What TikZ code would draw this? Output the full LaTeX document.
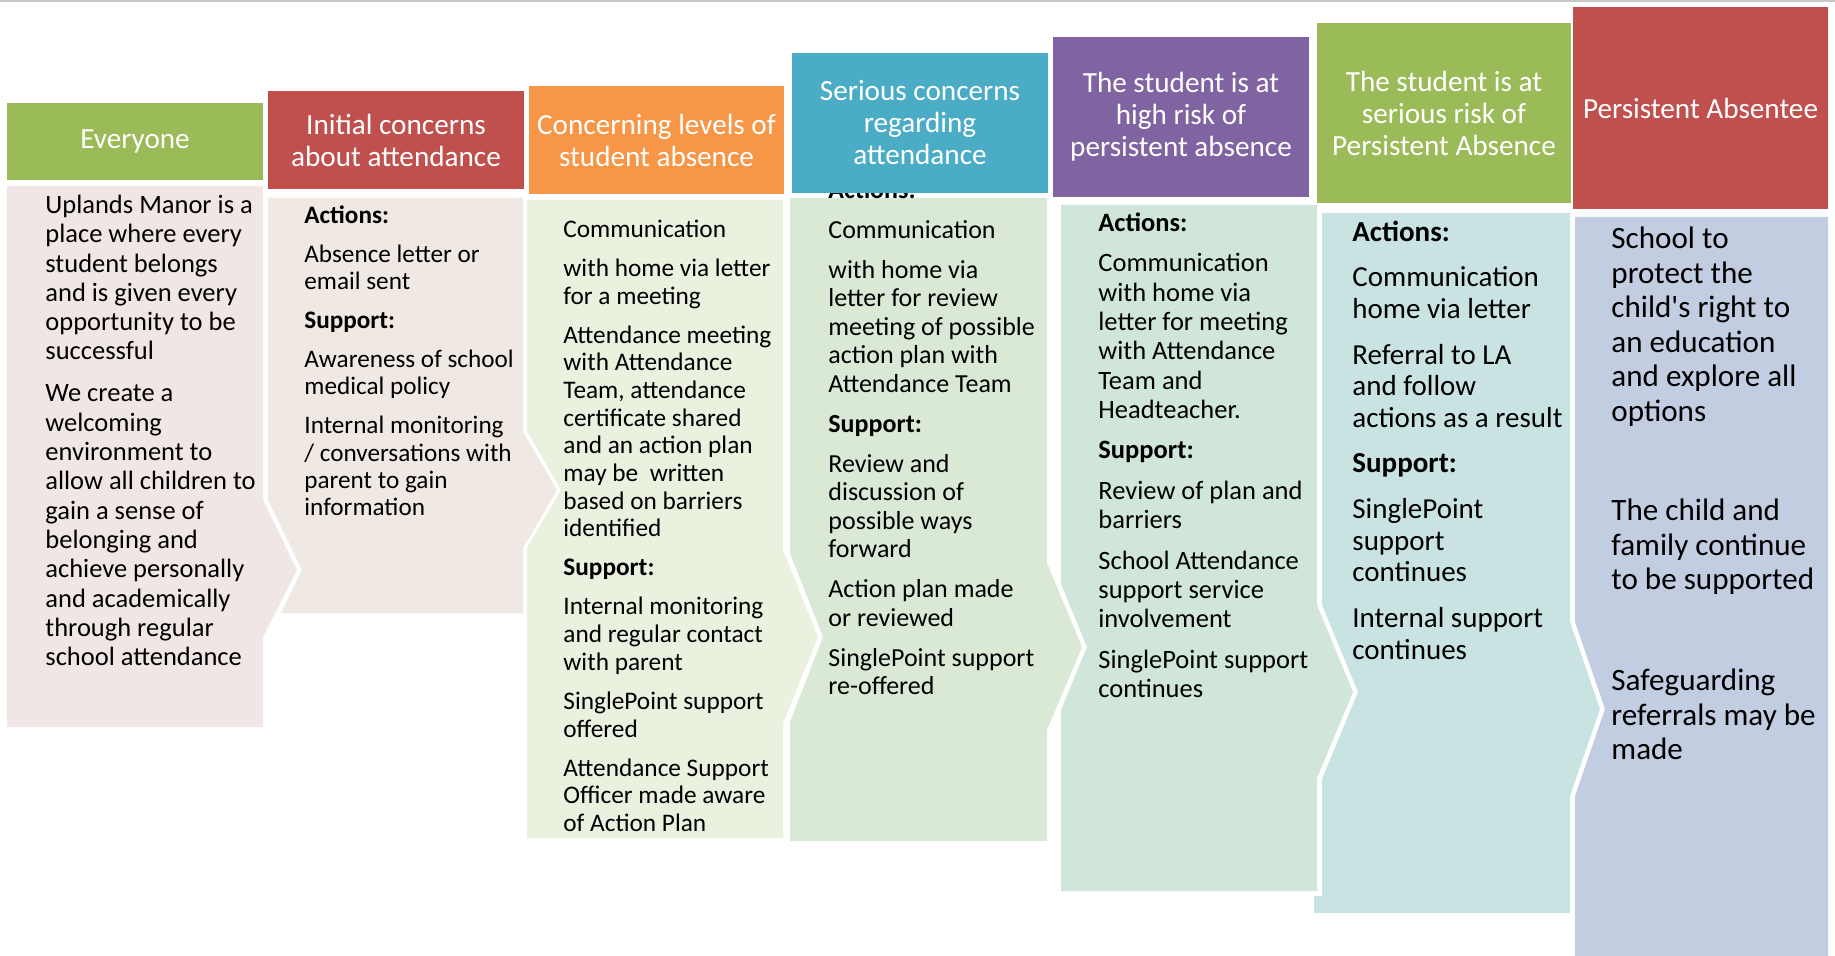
\documentclass[tikz,border=0pt]{standalone}
\usepackage{fontspec}
\setmainfont{Carlito}
\newcommand\setfs[2]{\fontsize{#1}{#2}\selectfont}
\definecolor{hGreen}{HTML}{9BBB59}
\definecolor{hRed}{HTML}{C0504D}
\definecolor{hOrange}{HTML}{F79646}
\definecolor{hBlue}{HTML}{4BACC6}
\definecolor{hPurple}{HTML}{8064A2}
\definecolor{bOne}{HTML}{F1E6E6}
\definecolor{bTwo}{HTML}{F0E8E3}
\definecolor{bThree}{HTML}{EBF1DF}
\definecolor{bFour}{HTML}{DAE9D6}
\definecolor{bFive}{HTML}{D0E6DA}
\definecolor{bSix}{HTML}{C9E3E3}
\definecolor{bSeven}{HTML}{C3CDE2}
\tikzset{
  hdr/.style={rectangle, inner sep=0pt, text=white, align=center, font=\setfs{14.6pt}{16pt}},
  bodytext/.style={anchor=north west, inner sep=0pt, align=left, text=black},
}
\begin{document}
\begin{tikzpicture}[x=0.5pt, y=-0.5pt]
\useasboundingbox (0,0) rectangle (1835,956);
\fill[white] (0,0) rectangle (1835,956);
\draw[black!22, line width=0.6pt] (0,1) -- (1835,1);
% bodies
\fill[bOne] (7,186) -- (263,186) -- (263,500) -- (297,570) -- (263,637) -- (263,727) -- (7,727) -- cycle;
\fill[bTwo] (268,198) -- (523,198) -- (523,432) -- (557,490) -- (523,548) -- (523,613) -- (281,613) -- (302,570) -- (268,500) -- cycle;
\fill[bThree] (527,200) -- (783,200) -- (783,550) -- (818,637) -- (783,723) -- (783,838) -- (527,838) -- (527,548) -- (561,490) -- (527,431) -- cycle;
\fill[bFour] (790,198) -- (1047,198) -- (1047,563) -- (1082,647) -- (1047,730) -- (1047,841) -- (790,841) -- (790,722) -- (823,637) -- (790,553) -- cycle;
\fill[bFive] (1061,205) -- (1317,205) -- (1317,605) -- (1353,692) -- (1317,778) -- (1317,891) -- (1061,891) -- (1061,710) -- (1087,647) -- (1061,584) -- cycle;
\fill[bSix] (1322,213) -- (1570,213) -- (1570,622) -- (1600,709) -- (1570,796) -- (1570,913) -- (1314,913) -- (1314,896) -- (1322,896) -- (1322,779) -- (1358,692) -- (1322,605) -- cycle;
\fill[bSeven] (1575,217) -- (1828,217) -- (1828,956) -- (1575,956) -- (1575,796) -- (1605,709) -- (1575,622) -- cycle;
% body texts
\node[bodytext, font=\setfs{13.25pt}{14.65pt}] (t1) at (45,192.5) {\strut Uplands Manor is a\\place where every\\student belongs\\and is given every\\opportunity to be\\successful\\[6.35pt]We create a\\welcoming\\environment to\\allow all children to\\gain a sense of\\belonging and\\achieve personally\\and academically\\through regular\\school attendance};
\node[bodytext, font=\setfs{12.6pt}{13.65pt}] (t2) at (304,203.6) {\strut\textbf{Actions:}\\[5.85pt]Absence letter or\\email sent\\[5.85pt]\textbf{Support:}\\[5.85pt]Awareness of school\\medical policy\\[5.85pt]Internal monitoring\\/ conversations with\\parent to gain\\information};
\node[bodytext, font=\setfs{12.65pt}{13.85pt}] (t3) at (563,217.6) {\strut Communication\\[5.65pt]with home via letter\\for a meeting\\[5.65pt]Attendance meeting\\with Attendance\\Team, attendance\\certificate shared\\and an action plan\\may be\ \ written\\based on barriers\\identified\\[5.65pt]\textbf{Support:}\\[5.65pt]Internal monitoring\\and regular contact\\with parent\\[5.65pt]SinglePoint support\\offered\\[5.65pt]Attendance Support\\Officer made aware\\of Action Plan};
\node[bodytext, font=\setfs{13pt}{14.25pt}] (t4) at (828,178) {\strut\textbf{Actions:}\\[5.75pt]Communication\\[5.75pt]with home via\\letter for review\\meeting of possible\\action plan with\\Attendance Team\\[5.75pt]\textbf{Support:}\\[5.75pt]Review and\\discussion of\\possible ways\\forward\\[5.75pt]Action plan made\\or reviewed\\[5.75pt]SinglePoint support\\re-offered};
\node[bodytext, font=\setfs{13.25pt}{14.65pt}] (t5) at (1098,210.5) {\strut\textbf{Actions:}\\[5.6pt]Communication\\with home via\\letter for meeting\\with Attendance\\Team and\\Headteacher.\\[5.6pt]\textbf{Support:}\\[5.6pt]Review of plan and\\barriers\\[5.6pt]School Attendance\\support service\\involvement\\[5.6pt]SinglePoint support\\continues};
\node[bodytext, font=\setfs{14.5pt}{15.85pt}] (t6) at (1352,218.8) {\strut\textbf{Actions:}\\[6.9pt]Communication\\home via letter\\[6.9pt]Referral to LA\\and follow\\actions as a result\\[6.9pt]\textbf{Support:}\\[6.9pt]SinglePoint\\support\\continues\\[6.9pt]Internal support\\continues};
\node[bodytext, font=\setfs{15.55pt}{17.3pt}] (t7) at (1611,223.8) {\strut School to\\protect the\\child\textquotesingle s right to\\an education\\and explore all\\options\\[32.2pt]The child and\\family continue\\to be supported\\[33.2pt]Safeguarding\\referrals may be\\made};
% headers
\node[hdr, fill=hGreen, minimum width=128pt, minimum height=38.5pt] (h1) at (135,141.5) {Everyone};
\node[hdr, fill=hRed, minimum width=128pt, minimum height=49pt] (h2) at (396,140) {Initial concerns\\about attendance};
\node[hdr, fill=hOrange, minimum width=127.5pt, minimum height=54pt] (h3) at (656.5,140) {Concerning levels of\\student absence};
\node[hdr, fill=hBlue, minimum width=128pt, minimum height=70pt] (h4) at (920,123) {Serious concerns\\regarding\\attendance};
\node[hdr, fill=hPurple, minimum width=128pt, minimum height=80pt] (h5) at (1181,117) {The student is at\\high risk of\\persistent absence};
\node[hdr, fill=hGreen, minimum width=127pt, minimum height=90pt] (h6) at (1444,113) {The student is at\\serious risk of\\Persistent Absence};
\node[hdr, fill=hRed, minimum width=127.5pt, minimum height=101pt] (h7) at (1700.5,108) {Persistent Absentee};
\end{tikzpicture}
\end{document}
